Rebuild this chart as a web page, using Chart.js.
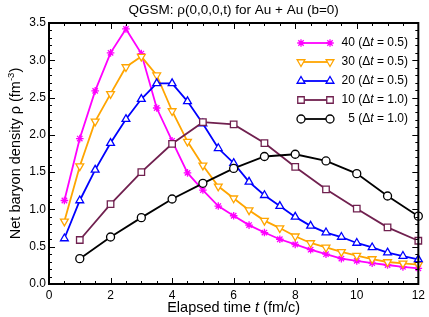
<!DOCTYPE html>
<html>
<head>
<meta charset="utf-8">
<script src="https://cdn.jsdelivr.net/npm/chart.js@4.4.1/dist/chart.umd.min.js"></script>
<style>
  html, body { margin: 0; padding: 0; background: #fff; }
  #wrap { width: 429px; height: 317px; }
</style>
</head>
<body>
<div id="wrap"><canvas id="c" width="429" height="317"></canvas></div>
<script>
// ── Data ──
const tHalf = [0.5, 1, 1.5, 2, 2.5, 3, 3.5, 4, 4.5, 5, 5.5, 6, 6.5, 7, 7.5, 8, 8.5, 9, 9.5, 10, 10.5, 11, 11.5, 12];
const tOne  = [1, 2, 3, 4, 5, 6, 7, 8, 9, 10, 11, 12];

const rho40 = [1.12, 1.95, 2.59, 3.10, 3.42, 3.09, 2.36, 1.92, 1.49, 1.26, 1.045, 0.915, 0.79, 0.69, 0.60, 0.53, 0.46, 0.40, 0.34, 0.31, 0.28, 0.255, 0.23, 0.21];
const rho30 = [0.84, 1.58, 2.18, 2.55, 2.91, 3.05, 2.80, 2.32, 1.91, 1.59, 1.31, 1.15, 0.99, 0.85, 0.75, 0.64, 0.55, 0.49, 0.43, 0.38, 0.335, 0.295, 0.277, 0.26];
const rho20 = [0.61, 1.12, 1.53, 1.89, 2.21, 2.48, 2.69, 2.69, 2.45, 2.15, 1.82, 1.62, 1.37, 1.19, 1.045, 0.90, 0.78, 0.69, 0.63, 0.55, 0.49, 0.42, 0.375, 0.33];
const rho10 = [0.59, 1.07, 1.50, 1.88, 2.17, 2.14, 1.89, 1.57, 1.27, 1.01, 0.76, 0.58];
const rho5  = [0.34, 0.63, 0.89, 1.14, 1.35, 1.55, 1.71, 1.74, 1.65, 1.48, 1.18, 0.91];

const seriesNames = ['40', '30', '20', '10', '5'];
const seriesDt    = ['0.5', '0.5', '0.5', '1.0', '1.0'];

const xTicks = [0, 2, 4, 6, 8, 10, 12];
const yTicks = [0, 0.5, 1.0, 1.5, 2.0, 2.5, 3.0, 3.5];

const pts = (xs, ys) => xs.map((x, i) => ({ x, y: ys[i] }));
const FONT = '"Liberation Sans", Arial, Helvetica, sans-serif';

// ── Styles ──
const styles = [
  { color: '#ff00ff', pointStyle: 'star',     radius: 3.8, rotation: 0,   fill: '#ff00ff' },
  { color: '#ffa500', pointStyle: 'triangle', radius: 4.5, rotation: 180, fill: '#ffffff' },
  { color: '#0000ff', pointStyle: 'triangle', radius: 4.5, rotation: 0,   fill: '#ffffff' },
  { color: '#70204f', pointStyle: 'rect',     radius: 4.6, rotation: 0,   fill: '#ffffff' },
  { color: '#000000', pointStyle: 'circle',   radius: 4.0, rotation: 0,   fill: '#ffffff' }
];
const seriesData = [pts(tHalf, rho40), pts(tHalf, rho30), pts(tHalf, rho20), pts(tOne, rho10), pts(tOne, rho5)];

const datasets = seriesData.map((d, i) => ({
  label: seriesNames[i],
  data: d,
  borderColor: styles[i].color,
  backgroundColor: styles[i].color,
  borderWidth: 1.8,
  pointStyle: styles[i].pointStyle,
  pointRadius: styles[i].radius,
  pointRotation: styles[i].rotation,
  pointBackgroundColor: styles[i].fill,
  pointBorderColor: styles[i].color,
  pointBorderWidth: 1.3,
  showLine: true,
  tension: 0,
  clip: false,
  order: 4 - i
}));

// ── Frame, inward ticks, axis titles, legend ──
const framePlugin = {
  id: 'frame',
  afterDraw(chart) {
    const ctx = chart.ctx;
    const a = chart.chartArea;
    const xs = chart.scales.x, ys = chart.scales.y;
    ctx.save();
    ctx.strokeStyle = '#000';
    ctx.lineWidth = 1;
    ctx.beginPath();
    for (let v = 0; v <= 12.001; v += 0.5) {
      const px = Math.round(xs.getPixelForValue(v)) + 0.5;
      const len = Math.abs(v % 2) < 1e-6 ? 6 : 3;
      ctx.moveTo(px, a.bottom); ctx.lineTo(px, a.bottom - len);
      ctx.moveTo(px, a.top); ctx.lineTo(px, a.top + len);
    }
    for (let k = 0; k <= 35; k++) {
      const v = k / 10;
      const py = Math.round(ys.getPixelForValue(v)) + 0.5;
      const len = k % 5 === 0 ? 6 : 3;
      ctx.moveTo(a.left, py); ctx.lineTo(a.left + len, py);
      ctx.moveTo(a.right, py); ctx.lineTo(a.right - len, py);
    }
    ctx.stroke();
    ctx.lineWidth = 2;
    ctx.strokeRect(a.left, a.top, a.right - a.left, a.bottom - a.top);

    // x axis title with italic t
    ctx.fillStyle = '#000';
    ctx.textBaseline = 'alphabetic';
    const xParts = [['Elapsed time ', ''], ['t', 'italic '], [' (fm/c)', '']];
    let w = 0;
    xParts.forEach(p => { ctx.font = p[1] + '14.5px ' + FONT; w += ctx.measureText(p[0]).width; });
    let x0 = (a.left + a.right) / 2 - w / 2;
    xParts.forEach(p => { ctx.font = p[1] + '14.5px ' + FONT; ctx.fillText(p[0], x0, 312); x0 += ctx.measureText(p[0]).width; });

    // y axis title, rotated, with superscript
    ctx.save();
    ctx.translate(20, (a.top + a.bottom) / 2);
    ctx.rotate(-Math.PI / 2);
    const yParts = [['Net baryon density \u03c1 (fm', 14.5, 0], ['-3', 9.5, -6], [')', 14.5, 0]];
    w = 0;
    yParts.forEach(p => { ctx.font = p[1] + 'px ' + FONT; w += ctx.measureText(p[0]).width; });
    x0 = -w / 2;
    yParts.forEach(p => { ctx.font = p[1] + 'px ' + FONT; ctx.fillText(p[0], x0, p[2]); x0 += ctx.measureText(p[0]).width; });
    ctx.restore();

    // legend: line with markers at both ends, right aligned labels
    const rowY = [43, 62, 81, 100, 119];
    styles.forEach((s, i) => {
      const y = rowY[i];
      ctx.strokeStyle = s.color;
      ctx.lineWidth = 1.8;
      ctx.beginPath(); ctx.moveTo(301, y); ctx.lineTo(330, y); ctx.stroke();
      ctx.fillStyle = s.fill;
      ctx.lineWidth = 1.3;
      [301, 330].forEach(px => Chart.helpers.drawPoint(ctx, { pointStyle: s.pointStyle, radius: s.radius, rotation: s.rotation, borderWidth: 1.3 }, px, y));
      const parts = [[seriesNames[i] + ' (\u0394', ''], ['t', 'italic '], [' = ' + seriesDt[i] + ')', '']];
      ctx.fillStyle = '#000';
      ctx.textBaseline = 'middle';
      let tw = 0;
      parts.forEach(p => { ctx.font = p[1] + '12px ' + FONT; tw += ctx.measureText(p[0]).width; });
      let tx = 408 - tw;
      parts.forEach(p => { ctx.font = p[1] + '12px ' + FONT; ctx.fillText(p[0], tx, y); tx += ctx.measureText(p[0]).width; });
    });
    ctx.restore();
  }
};

new Chart(document.getElementById('c').getContext('2d'), {
  type: 'scatter',
  data: { datasets },
  options: {
    responsive: false,
    animation: false,
    layout: { padding: { left: 0, right: 9, top: 0, bottom: 0 } },
    plugins: {
      legend: { display: false },
      tooltip: { enabled: false },
      title: {
        display: true, fullSize: false,
        text: 'QGSM: \u03c1(0,0,0,t) for Au + Au (b=0)',
        color: '#000',
        font: { family: FONT, size: 13.5, weight: 'normal', lineHeight: 1.2 },
        padding: { top: 2, bottom: 4.8 }
      }
    },
    scales: {
      x: {
        type: 'linear', min: 0, max: 12,
        afterFit: s => { s.height = 33; },
        afterBuildTicks: s => { s.ticks = xTicks.map(v => ({ value: v })); },
        grid: { display: false, drawTicks: false, tickLength: 0 },
        border: { display: false },
        ticks: { color: '#000', padding: 4, maxRotation: 0, font: { family: FONT, size: 12 } }
      },
      y: {
        type: 'linear', min: 0, max: 3.5,
        afterFit: s => { s.width = 49; },
        afterBuildTicks: s => { s.ticks = yTicks.map(v => ({ value: v })); },
        grid: { display: false, drawTicks: false, tickLength: 0 },
        border: { display: false },
        ticks: { color: '#000', padding: 3, font: { family: FONT, size: 12 }, callback: v => v.toFixed(1) }
      }
    }
  },
  plugins: [framePlugin]
});
</script>
</body>
</html>
